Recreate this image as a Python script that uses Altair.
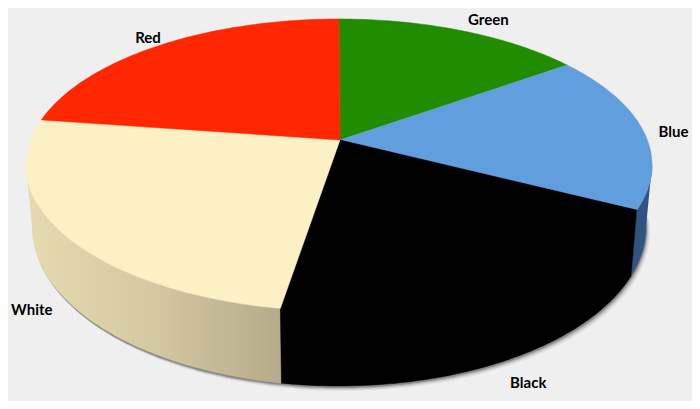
import math
import altair as alt
import pandas as pd

# Data (share of the pie, clockwise from the top)
categories = ["Green", "Blue", "Black", "White", "Red"]
shares = [13, 17, 23, 27, 20]

# Styling
face_colors = ["#228c00", "#619edd", "#000000", "#fcf1c4", "#ff2600"]
label_nudges = [(25, -11), (29, -1), (33, 19), (-43, 2), (-7, -9)]
TOP = dict(cx=339, cy=165, a=313, b=146)      # upper ellipse
BASE = dict(cx=339, cy=227, a=307, b=159)     # lower ellipse
APEX = (340, 140)                              # perspective position of the pie's centre


def on(e, deg):
    t = math.radians(deg)
    return e["cx"] + e["a"] * math.sin(t), e["cy"] - e["b"] * math.cos(t)


def arc(e, d0, d1):
    n = max(2, int(abs(d1 - d0)) + 1)
    return [on(e, d0 + (d1 - d0) * i / (n - 1)) for i in range(n)]


def frame(points):
    return pd.DataFrame({"x": [p[0] for p in points], "y": [p[1] for p in points],
                         "o": range(len(points))})


X = alt.X("x:Q", scale=alt.Scale(domain=[8, 692], nice=False, zero=False), axis=None)
Y = alt.Y("y:Q", scale=alt.Scale(domain=[401, 8], nice=False, zero=False), axis=None)


def poly(points, fill, **kw):
    return alt.Chart(frame(points)).mark_line(fill=fill, stroke=kw.pop("stroke", None) or fill,
                                              strokeWidth=kw.pop("sw", 0.5), **kw).encode(
        x=X, y=Y, order="o:Q")


total = sum(shares)
edges = [0]
for v in shares:
    edges.append(edges[-1] + v / total * 360)

layers = []
# soft shadow under the lower rim
for off, op in [((4, 5), 0.08), ((3, 4), 0.12), ((2, 3), 0.2), ((1, 2), 0.45)]:
    s = dict(BASE, cx=BASE["cx"] + off[0], cy=BASE["cy"] + off[1])
    layers.append(poly(arc(s, 85, 280), "#555555", opacity=op, sw=0))

# rim
blue_side = arc(TOP, 90, edges[2]) + arc(BASE, edges[2], 90)
black_side = [APEX] + arc(TOP, edges[2], edges[2]) + arc(BASE, edges[2], edges[3]) + arc(TOP, edges[3], edges[3]) + [APEX]
white_side = arc(TOP, edges[3], 270) + arc(BASE, 270, edges[3])
layers.append(poly(blue_side, "#2f5480"))
layers.append(poly(white_side, alt.LinearGradient(
    gradient="linear", x1=0, x2=1, y1=0, y2=0,
    stops=[alt.GradientStop(offset=0, color="#e6dab0"),
           alt.GradientStop(offset=0.5, color="#d3c8a0"),
           alt.GradientStop(offset=1, color="#b6aa8a")]), stroke="#cfc49d", sw=0))
layers.append(poly(black_side, "#000000"))

# top faces
for i, c in enumerate(face_colors):
    pts = [APEX] + arc(TOP, edges[i], edges[i + 1]) + [APEX]
    layers.append(poly(pts, c))

# labels
rows = []
for i, name in enumerate(categories):
    mid = (edges[i] + edges[i + 1]) / 2
    e = BASE if 90 < mid < 270 else TOP
    px, py = on(e, mid)
    rows.append({"x": px + label_nudges[i][0], "y": py + label_nudges[i][1], "label": name})
layers.append(alt.Chart(pd.DataFrame(rows)).mark_text(
    font="Lato", fontWeight="bold", fontSize=15, color="#000000").encode(x=X, y=Y, text="label:N"))

chart = alt.layer(*layers).properties(
    width=684, height=393, padding=0, background="#efefef",
    autosize=alt.AutoSizeParams(type="none")
).configure_view(stroke=None)

chart.save("out.html", embed_options={"renderer": "svg", "actions": False})
